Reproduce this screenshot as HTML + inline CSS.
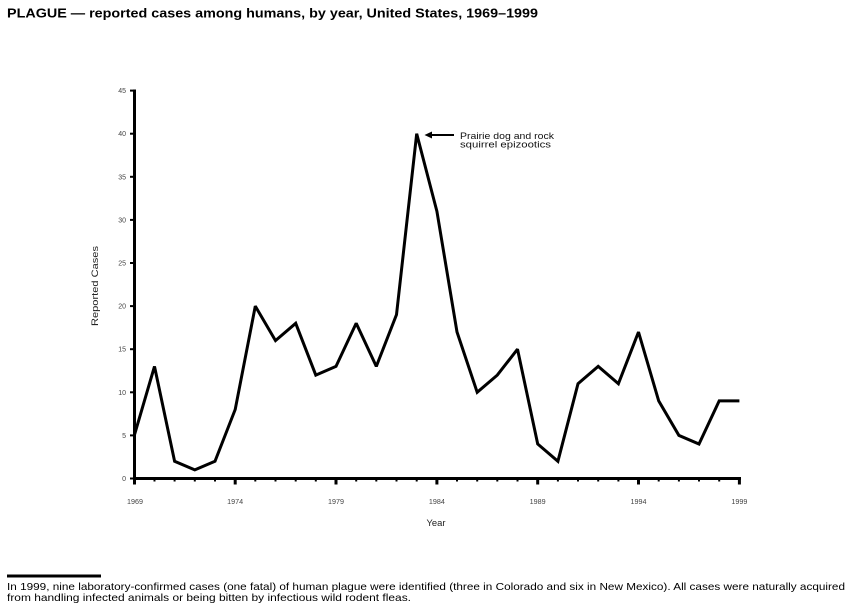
<!DOCTYPE html>
<html>
<head>
<meta charset="utf-8">
<style>
html,body{margin:0;padding:0;background:#fff;}
svg{display:block;}
text{font-family:"Liberation Sans",Arial,sans-serif;}
</style>
</head>
<body>
<svg width="858" height="612" viewBox="0 0 858 612" xmlns="http://www.w3.org/2000/svg">
  <rect width="858" height="612" fill="#fff"/>
  <!-- Title -->
  <text x="7" y="17.5" font-size="13" font-weight="bold" fill="#000" textLength="531" lengthAdjust="spacingAndGlyphs">PLAGUE — reported cases among humans, by year, United States, 1969–1999</text>

  <!-- Y axis -->
  <line x1="134.5" y1="89.5" x2="134.5" y2="484.5" stroke="#000" stroke-width="3"/>
  <g stroke="#000" stroke-width="2">
    <line x1="130" y1="478.5" x2="134" y2="478.5"/>
    <line x1="130" y1="435.4" x2="134" y2="435.4"/>
    <line x1="130" y1="392.3" x2="134" y2="392.3"/>
    <line x1="130" y1="349.2" x2="134" y2="349.2"/>
    <line x1="130" y1="306.1" x2="134" y2="306.1"/>
    <line x1="130" y1="263.0" x2="134" y2="263.0"/>
    <line x1="130" y1="219.9" x2="134" y2="219.9"/>
    <line x1="130" y1="176.8" x2="134" y2="176.8"/>
    <line x1="130" y1="133.7" x2="134" y2="133.7"/>
    <line x1="130" y1="90.6" x2="134" y2="90.6"/>
  </g>
  <g font-size="7" fill="#444" text-anchor="end">
    <text x="126" y="481">0</text>
    <text x="126" y="437.9">5</text>
    <text x="126" y="394.8">10</text>
    <text x="126" y="351.7">15</text>
    <text x="126" y="308.6">20</text>
    <text x="126" y="265.5">25</text>
    <text x="126" y="222.4">30</text>
    <text x="126" y="179.3">35</text>
    <text x="126" y="136.2">40</text>
    <text x="126" y="93.1">45</text>
  </g>
  <text transform="translate(98,286) rotate(-90)" font-size="9.5" fill="#222" text-anchor="middle" textLength="80" lengthAdjust="spacingAndGlyphs">Reported Cases</text>

  <!-- X axis -->
  <line x1="133" y1="478.5" x2="741" y2="478.5" stroke="#000" stroke-width="3"/>
  <g stroke="#000" stroke-width="2">
    <line x1="154.5" y1="478.5" x2="154.5" y2="481.5"/>
    <line x1="174.6" y1="478.5" x2="174.6" y2="481.5"/>
    <line x1="194.8" y1="478.5" x2="194.8" y2="481.5"/>
    <line x1="215.0" y1="478.5" x2="215.0" y2="481.5"/>
    <line x1="255.3" y1="478.5" x2="255.3" y2="481.5"/>
    <line x1="275.5" y1="478.5" x2="275.5" y2="481.5"/>
    <line x1="295.7" y1="478.5" x2="295.7" y2="481.5"/>
    <line x1="315.8" y1="478.5" x2="315.8" y2="481.5"/>
    <line x1="356.2" y1="478.5" x2="356.2" y2="481.5"/>
    <line x1="376.3" y1="478.5" x2="376.3" y2="481.5"/>
    <line x1="396.5" y1="478.5" x2="396.5" y2="481.5"/>
    <line x1="416.7" y1="478.5" x2="416.7" y2="481.5"/>
    <line x1="457.0" y1="478.5" x2="457.0" y2="481.5"/>
    <line x1="477.2" y1="478.5" x2="477.2" y2="481.5"/>
    <line x1="497.3" y1="478.5" x2="497.3" y2="481.5"/>
    <line x1="517.5" y1="478.5" x2="517.5" y2="481.5"/>
    <line x1="557.9" y1="478.5" x2="557.9" y2="481.5"/>
    <line x1="578.0" y1="478.5" x2="578.0" y2="481.5"/>
    <line x1="598.2" y1="478.5" x2="598.2" y2="481.5"/>
    <line x1="618.4" y1="478.5" x2="618.4" y2="481.5"/>
    <line x1="658.7" y1="478.5" x2="658.7" y2="481.5"/>
    <line x1="678.9" y1="478.5" x2="678.9" y2="481.5"/>
    <line x1="699.0" y1="478.5" x2="699.0" y2="481.5"/>
    <line x1="719.2" y1="478.5" x2="719.2" y2="481.5"/>
  </g>
  <g stroke="#000" stroke-width="3">
    <line x1="235.2" y1="478.5" x2="235.2" y2="484.5"/>
    <line x1="336.0" y1="478.5" x2="336.0" y2="484.5"/>
    <line x1="436.9" y1="478.5" x2="436.9" y2="484.5"/>
    <line x1="537.7" y1="478.5" x2="537.7" y2="484.5"/>
    <line x1="638.5" y1="478.5" x2="638.5" y2="484.5"/>
    <line x1="739.4" y1="478.5" x2="739.4" y2="484.5"/>
  </g>
  <g font-size="7" fill="#444" text-anchor="middle">
    <text x="135" y="504" textLength="16" lengthAdjust="spacingAndGlyphs">1969</text>
    <text x="235.2" y="504" textLength="16" lengthAdjust="spacingAndGlyphs">1974</text>
    <text x="336.0" y="504" textLength="16" lengthAdjust="spacingAndGlyphs">1979</text>
    <text x="436.9" y="504" textLength="16" lengthAdjust="spacingAndGlyphs">1984</text>
    <text x="537.7" y="504" textLength="16" lengthAdjust="spacingAndGlyphs">1989</text>
    <text x="638.5" y="504" textLength="16" lengthAdjust="spacingAndGlyphs">1994</text>
    <text x="739.4" y="504" textLength="16" lengthAdjust="spacingAndGlyphs">1999</text>
  </g>
  <text x="436" y="526" font-size="9" fill="#222" text-anchor="middle" textLength="19" lengthAdjust="spacingAndGlyphs">Year</text>

  <!-- Data line -->
  <polyline fill="none" stroke="#000" stroke-width="3" stroke-linejoin="miter" stroke-miterlimit="2"
    points="134.3,435.4 154.5,366.4 174.6,461.3 194.8,469.9 215.0,461.3 235.2,409.5 255.3,306.1 275.5,340.6 295.7,323.3 315.8,375.1 336.0,366.4 356.2,323.3 376.3,366.4 396.5,314.7 416.7,133.7 436.9,211.3 457.0,332.0 477.2,392.3 497.3,375.1 517.5,349.2 537.7,444.0 557.9,461.3 578.0,383.7 598.2,366.4 618.4,383.7 638.5,332.0 658.7,400.9 678.9,435.4 699.0,444.0 719.2,400.9 739.4,400.9"/>

  <!-- Annotation -->
  <line x1="431" y1="135" x2="454" y2="135" stroke="#000" stroke-width="2"/>
  <polygon points="424.5,135 432,131.5 432,138.5" fill="#000"/>
  <text x="460" y="139" font-size="9.5" fill="#111" textLength="94" lengthAdjust="spacingAndGlyphs">Prairie dog and rock</text>
  <text x="460" y="147.5" font-size="9.5" fill="#111" textLength="91" lengthAdjust="spacingAndGlyphs">squirrel epizootics</text>

  <!-- Footnote -->
  <rect x="7" y="574.5" width="94" height="3" fill="#000"/>
  <text x="7" y="590" font-size="10.5" fill="#000" textLength="838" lengthAdjust="spacingAndGlyphs">In 1999, nine laboratory-confirmed cases (one fatal) of human plague were identified (three in Colorado and six in New Mexico). All cases were naturally acquired</text>
  <text x="7" y="601" font-size="10.5" fill="#000" textLength="404" lengthAdjust="spacingAndGlyphs">from handling infected animals or being bitten by infectious wild rodent fleas.</text>
</svg>
</body>
</html>
